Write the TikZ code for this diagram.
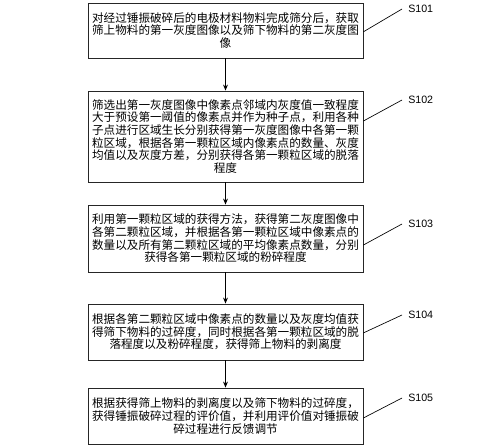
\documentclass[tikz,border=0pt]{standalone}
\usepackage{fontspec}
\setmainfont{Liberation Sans}
\newfontfamily\cjk{Noto Sans CJK SC}
\usetikzlibrary{arrows.meta}

\begin{document}
\begin{tikzpicture}[
x=0.75pt, y=-0.75pt,
stepbox/.style={rectangle, draw=black!85, line width=0.6pt, text width=204pt, inner xsep=1.1pt, inner ysep=0pt, align=center, minimum height=#1, font=\cjk\fontsize{8.7pt}{9.5pt}\selectfont},
steplabel/.style={anchor=west, inner xsep=4.5pt, inner ysep=0pt, font=\fontsize{8pt}{9pt}\selectfont},
flow/.style={-{Stealth[length=4.5pt, width=3.6pt]}, line width=0.6pt},
leader/.style={line width=0.5pt},
]
\useasboundingbox (0,0) rectangle (500,446);
\node[stepbox=41.25pt] (b1) at (225.5,30.5) {对经过锤振破碎后的电极材料物料完成筛分后，获取\\筛上物料的第一灰度图像以及筛下物料的第二灰度图\\像};
\node[stepbox=68.25pt] (b2) at (225.5,136.5) {筛选出第一灰度图像中像素点邻域内灰度值一致程度\\大于预设第一阈值的像素点并作为种子点，利用各种\\子点进行区域生长分别获得第一灰度图像中各第一颗\\粒区域，根据各第一颗粒区域内像素点的数量、灰度\\均值以及灰度方差，分别获得各第一颗粒区域的脱落\\程度};
\node[stepbox=50.25pt] (b3) at (225.5,238.5) {利用第一颗粒区域的获得方法，获得第二灰度图像中\\各第二颗粒区域，并根据各第一颗粒区域中像素点的\\数量以及所有第二颗粒区域的平均像素点数量，分别\\获得各第一颗粒区域的粉碎程度};
\node[stepbox=42pt] (b4) at (225.5,332) {根据各第二颗粒区域中像素点的数量以及灰度均值获\\得筛下物料的过碎度，同时根据各第一颗粒区域的脱\\落程度以及粉碎程度，获得筛上物料的剥离度};
\node[stepbox=42pt] (b5) at (225.5,416) {根据获得筛上物料的剥离度以及筛下物料的过碎度，\\获得锤振破碎过程的评价值，并利用评价值对锤振破\\碎过程进行反馈调节};
% step numbers
\node[steplabel] (l1) at (402,9) {S101};
\node[steplabel] (l2) at (402,100) {S102};
\node[steplabel] (l3) at (402,224) {S103};
\node[steplabel] (l4) at (402,315) {S104};
\node[steplabel] (l5) at (402,398) {S105};
\draw[flow] (b1) -- (b2);
\draw[flow] (b2) -- (b3);
\draw[flow] (b3) -- (b4);
\draw[flow] (b4) -- (b5);
\draw[leader] ([yshift=-1pt]b1.east) -- (l1.west);
\draw[leader] ([yshift=11.6pt]b2.east) -- (l2.west);
\draw[leader] ([yshift=-4.9pt]b3.east) -- (l3.west);
\draw[leader] ([yshift=-0.7pt]b4.east) -- (l4.west);
\draw[leader] ([yshift=-1.5pt]b5.east) -- (l5.west);
\end{tikzpicture}
\end{document}
